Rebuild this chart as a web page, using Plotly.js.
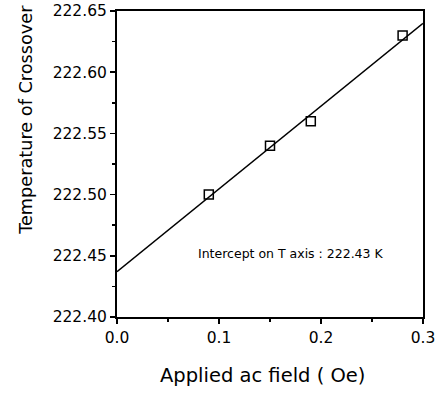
<!DOCTYPE html>
<html>
<head>
<meta charset="utf-8">
<script src="https://cdn.plot.ly/plotly-3.0.1.min.js"></script>
<style>html,body{margin:0;padding:0;background:#fff;}#chart{width:439px;height:399px;}</style>
</head>
<body>
<div id="chart"></div>
<script>
var fieldOe = [0.09, 0.15, 0.19, 0.28];
var crossoverT = [222.50, 222.54, 222.56, 222.63];
var fitX = [0.0, 0.3];
var fitY = [222.437, 222.640];
var xTicks = [0.0, 0.1, 0.2, 0.3];
var xTickText = ['0.0', '0.1', '0.2', '0.3'];
var yTicks = [222.40, 222.45, 222.50, 222.55, 222.60, 222.65];
var yTickText = ['222.40', '222.45', '222.50', '222.55', '222.60', '222.65'];
var noteText = 'Intercept on T axis : 222.43 K';

var font = 'DejaVu Sans, Liberation Sans, Arial, sans-serif';
var traces = [
  {x: fitX, y: fitY, mode: 'lines', line: {color: '#000', width: 1.5}, hoverinfo: 'skip'},
  {x: fieldOe, y: crossoverT, mode: 'markers',
   marker: {symbol: 'square-open', size: 9, color: '#000', line: {width: 1.5, color: '#000'}}}
];
var axisCommon = {
  showgrid: false, zeroline: false, showline: true, linecolor: '#000', linewidth: 2,
  mirror: true, ticks: 'outside', ticklen: 5, tickwidth: 1.5, tickcolor: '#000',
  tickfont: {family: font, size: 15.5, color: '#000'}
};
var layout = {
  width: 439, height: 399,
  margin: {l: 117, r: 16, t: 11, b: 82},
  paper_bgcolor: '#fff', plot_bgcolor: '#fff',
  showlegend: false,
  xaxis: Object.assign({}, axisCommon, {
    range: [0, 0.3], tickvals: xTicks, ticktext: xTickText,
    minor: {ticks: 'outside', ticklen: 3, tickwidth: 1.5, tickcolor: '#000', dtick: 0.05, showgrid: false}
  }),
  yaxis: Object.assign({}, axisCommon, {
    range: [222.40, 222.65], tickvals: yTicks, ticktext: yTickText,
    minor: {ticks: 'outside', ticklen: 3, tickwidth: 1.5, tickcolor: '#000', dtick: 0.025, showgrid: false}
  }),
  annotations: [
    {xref: 'x', yref: 'y', x: 0.171, y: 222.452, text: noteText, showarrow: false,
     font: {family: font, size: 12.5, color: '#000'}},
    {xref: 'paper', yref: 'paper', x: 0.477, y: -0.19, yanchor: 'middle', text: 'Applied ac field ( Oe)', showarrow: false,
     font: {family: font, size: 19.5, color: '#000'}},
    {xref: 'paper', yref: 'paper', x: -0.3, xanchor: 'center', y: 0.645, yanchor: 'middle', textangle: -90,
     text: 'Temperature of Crossover', showarrow: false,
     font: {family: font, size: 17.7, color: '#000'}}
  ]
};
Plotly.newPlot('chart', traces, layout, {displayModeBar: false, staticPlot: true});
</script>
</body>
</html>
